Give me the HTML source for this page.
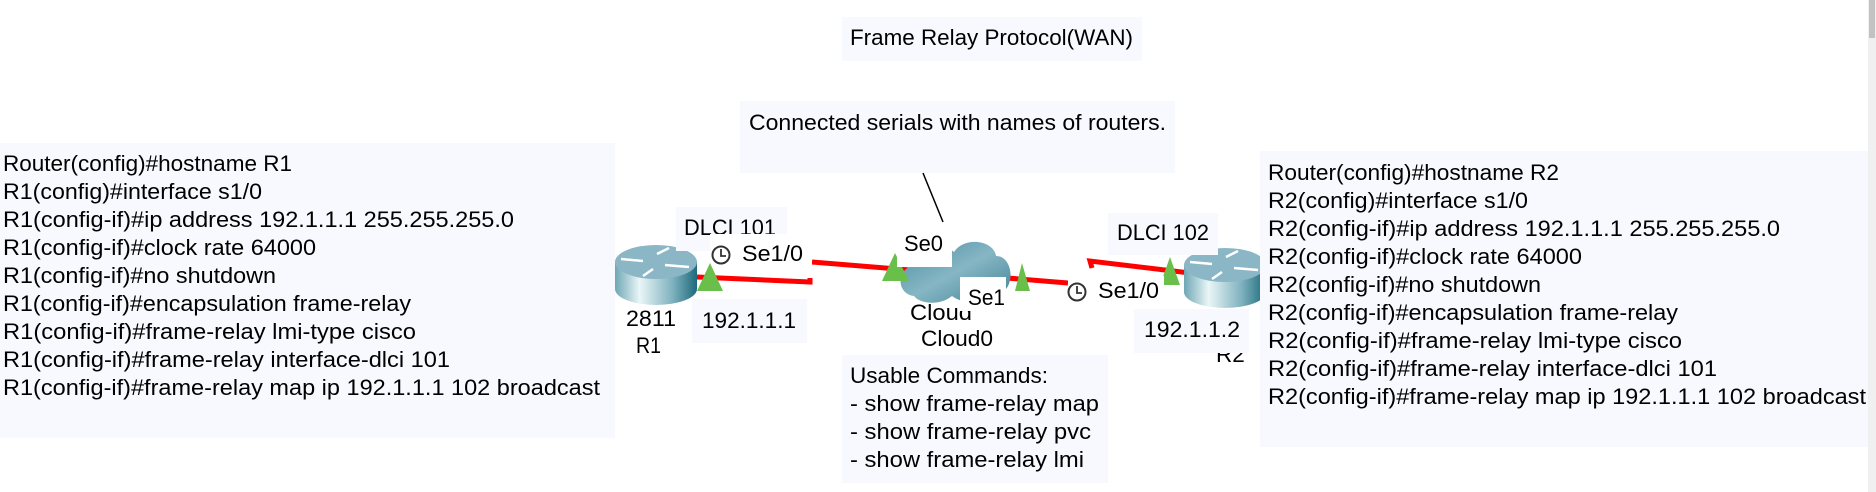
<!DOCTYPE html>
<html><head><meta charset="utf-8"><style>
html,body{margin:0;padding:0;background:#fff;width:1876px;height:492px;overflow:hidden}
svg text{font-family:"Liberation Sans",sans-serif;font-size:22.5px;fill:#000}
</style></head><body>
<svg width="1876" height="492" viewBox="0 0 1876 492" xmlns="http://www.w3.org/2000/svg">
<defs>
<linearGradient id="rb" x1="0" x2="1" y1="0" y2="0">
<stop offset="0" stop-color="#6ea6b4"/><stop offset="0.3" stop-color="#eaf6f7"/><stop offset="0.7" stop-color="#7fb2bf"/><stop offset="1" stop-color="#1d6a7c"/>
</linearGradient>
<linearGradient id="cl" x1="0" x2="1" y1="0" y2="1">
<stop offset="0" stop-color="#4d8fa3"/><stop offset="0.5" stop-color="#86b6c4"/><stop offset="1" stop-color="#3f8296"/>
</linearGradient>
<g id="router">
<path d="M0,17 L0,44 A41,16 0 0 0 82,44 L82,17 Z" fill="url(#rb)"/>
<ellipse cx="41" cy="17" rx="41" ry="17" fill="#8ab6c5"/>
<g stroke="#fff" stroke-width="2.5" fill="none">
<path d="M6,14 L28,16"/><path d="M42,9 L54,3"/><path d="M38,24 L28,31"/><path d="M50,20 L74,22"/>
</g>
</g>
</defs>
<rect x="1868" y="0" width="8" height="492" fill="#f0f0f0"/>
<rect x="1869" y="0" width="6" height="38" fill="#c2c2c2"/>

<rect x="842" y="17" width="300" height="44" fill="#f7f9fe"/>
<text x="850" y="45" textLength="283" lengthAdjust="spacingAndGlyphs">Frame Relay Protocol(WAN)</text>
<rect x="740" y="101" width="435" height="72" fill="#f7f9fe"/>
<text x="749" y="130" textLength="417" lengthAdjust="spacingAndGlyphs">Connected serials with names of routers.</text>
<line x1="923" y1="173" x2="943" y2="222" stroke="#000" stroke-width="1.5"/>

<g stroke="#ff0000" stroke-width="5" fill="none">
<path d="M697,277 L810,282 L810,278"/>
<path d="M812,262 L1068,283"/>
<path d="M1092,268 L1090,261 L1190,273"/>
</g>

<use href="#router" x="615" y="245"/>
<path d="M914,296 C896,294 896,268 914,266 C912,248 940,240 954,252 C964,236 994,240 996,256 C1014,256 1016,290 998,294 C988,306 962,304 952,296 C940,306 920,304 914,296 Z" fill="url(#cl)"/>

<rect x="676" y="207" width="111" height="44" fill="#f7f9fe"/>
<text x="684" y="235" textLength="92" lengthAdjust="spacingAndGlyphs">DLCI 101</text>
<rect x="710" y="234" width="102" height="32" fill="#fff"/>
<circle cx="721" cy="255" r="8.5" fill="none" stroke="#333" stroke-width="2"/>
<path d="M721,249 L721,256 L726,256" stroke="#333" stroke-width="1.8" fill="none"/>
<text x="742" y="261" textLength="61" lengthAdjust="spacingAndGlyphs">Se1/0</text>
<polygon points="697,291 723,291 710,263" fill="#6abf4b"/>
<rect x="692" y="299" width="115" height="44" fill="#f7f9fe"/>
<text x="702" y="328" textLength="94" lengthAdjust="spacingAndGlyphs">192.1.1.1</text>
<text x="626" y="326" textLength="50" lengthAdjust="spacingAndGlyphs">2811</text>
<text x="636" y="353" textLength="25" lengthAdjust="spacingAndGlyphs">R1</text>

<text x="910" y="320" textLength="62" lengthAdjust="spacingAndGlyphs">Cloud</text>
<text x="921" y="346" textLength="72" lengthAdjust="spacingAndGlyphs">Cloud0</text>
<polygon points="882,281 909,281 895,253" fill="#6abf4b"/>
<rect x="897" y="233" width="55" height="34" fill="#fff"/>
<text x="904" y="251" textLength="39" lengthAdjust="spacingAndGlyphs">Se0</text>
<rect x="960" y="277" width="46" height="34" fill="#fff"/>
<text x="968" y="305" textLength="37" lengthAdjust="spacingAndGlyphs">Se1</text>
<polygon points="1015,291 1030,291 1022,263" fill="#6abf4b"/>

<rect x="842" y="355" width="266" height="128" fill="#f7f9fe"/>
<text x="850" y="383" textLength="198" lengthAdjust="spacingAndGlyphs">Usable Commands:</text>
<text x="850" y="411" textLength="249" lengthAdjust="spacingAndGlyphs">- show frame-relay map</text>
<text x="850" y="439" textLength="241" lengthAdjust="spacingAndGlyphs">- show frame-relay pvc</text>
<text x="850" y="467" textLength="234" lengthAdjust="spacingAndGlyphs">- show frame-relay lmi</text>

<use href="#router" x="1184" y="248"/>
<text x="1216" y="362">R2</text>
<rect x="1108" y="213" width="110" height="42" fill="#f7f9fe"/>
<text x="1117" y="240" textLength="92" lengthAdjust="spacingAndGlyphs">DLCI 102</text>
<polygon points="1160,285 1180,285 1170,257" fill="#6abf4b"/>
<rect x="1068" y="276" width="96" height="30" fill="#fff"/>
<circle cx="1077" cy="292" r="8.5" fill="none" stroke="#333" stroke-width="2"/>
<path d="M1077,286 L1077,293 L1082,293" stroke="#333" stroke-width="1.8" fill="none"/>
<text x="1098" y="298" textLength="61" lengthAdjust="spacingAndGlyphs">Se1/0</text>
<rect x="1134" y="309" width="115" height="44" fill="#f7f9fe"/>
<text x="1144" y="337" textLength="96" lengthAdjust="spacingAndGlyphs">192.1.1.2</text>

<rect x="0" y="143" width="615" height="295" fill="#f7f9fe"/>
<g>
<text x="3" y="171" textLength="289" lengthAdjust="spacingAndGlyphs">Router(config)#hostname R1</text>
<text x="3" y="199" textLength="259" lengthAdjust="spacingAndGlyphs">R1(config)#interface s1/0</text>
<text x="3" y="227" textLength="511" lengthAdjust="spacingAndGlyphs">R1(config-if)#ip address 192.1.1.1 255.255.255.0</text>
<text x="3" y="255" textLength="313" lengthAdjust="spacingAndGlyphs">R1(config-if)#clock rate 64000</text>
<text x="3" y="283" textLength="273" lengthAdjust="spacingAndGlyphs">R1(config-if)#no shutdown</text>
<text x="3" y="311" textLength="408" lengthAdjust="spacingAndGlyphs">R1(config-if)#encapsulation frame-relay</text>
<text x="3" y="339" textLength="413" lengthAdjust="spacingAndGlyphs">R1(config-if)#frame-relay lmi-type cisco</text>
<text x="3" y="367" textLength="447" lengthAdjust="spacingAndGlyphs">R1(config-if)#frame-relay interface-dlci 101</text>
<text x="3" y="395" textLength="597" lengthAdjust="spacingAndGlyphs">R1(config-if)#frame-relay map ip 192.1.1.1 102 broadcast</text>
</g>

<rect x="1260" y="151" width="608" height="296" fill="#f7f9fe"/>
<g>
<text x="1268" y="180" textLength="291" lengthAdjust="spacingAndGlyphs">Router(config)#hostname R2</text>
<text x="1268" y="208" textLength="260" lengthAdjust="spacingAndGlyphs">R2(config)#interface s1/0</text>
<text x="1268" y="236" textLength="512" lengthAdjust="spacingAndGlyphs">R2(config-if)#ip address 192.1.1.1 255.255.255.0</text>
<text x="1268" y="264" textLength="314" lengthAdjust="spacingAndGlyphs">R2(config-if)#clock rate 64000</text>
<text x="1268" y="292" textLength="273" lengthAdjust="spacingAndGlyphs">R2(config-if)#no shutdown</text>
<text x="1268" y="320" textLength="410" lengthAdjust="spacingAndGlyphs">R2(config-if)#encapsulation frame-relay</text>
<text x="1268" y="348" textLength="414" lengthAdjust="spacingAndGlyphs">R2(config-if)#frame-relay lmi-type cisco</text>
<text x="1268" y="376" textLength="449" lengthAdjust="spacingAndGlyphs">R2(config-if)#frame-relay interface-dlci 101</text>
<text x="1268" y="404" textLength="598" lengthAdjust="spacingAndGlyphs">R2(config-if)#frame-relay map ip 192.1.1.1 102 broadcast</text>
</g>
</svg>
</body></html>
